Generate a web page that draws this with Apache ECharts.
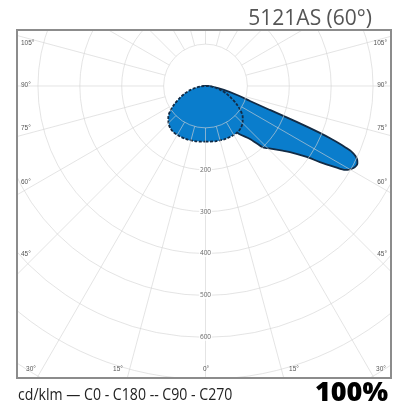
<!DOCTYPE html>
<html><head><meta charset="utf-8">
<script src="https://cdn.jsdelivr.net/npm/echarts@6/dist/echarts.min.js"></script>
<style>html,body{margin:0;padding:0;background:#fff}#c{width:404px;height:408px}</style>
</head><body><div id="c"></div>
<script>
// Luminous intensity (cd/klm) by gamma angle
const gammaC0 = [0, 10, 20, 30, 35, 40, 43, 45, 50, 52, 55, 56.4, 58, 59, 60, 61, 62, 63, 64, 65, 65.75, 66.3, 66.7, 67.2, 67.7, 68.5, 69.6, 71.4, 74, 78, 85, 90, 180];
const valuesC0 = [95, 95, 100, 110, 140, 165, 200, 210, 240, 256, 295, 328, 365, 389, 398, 404, 407, 407, 403, 395, 383, 365, 350, 325, 295, 234, 164, 112, 80, 45, 15, 3, 0];
const gammaC180 = [0, 15, 30, 45, 60, 75, 90, 180];
const valuesC180 = [95, 90, 80, 60, 35, 12, 0, 0];
const gammaC90 = [0, 10, 20, 30, 35, 40, 45, 50, 55, 60, 65, 70, 75, 80, 85, 90, 180];
const valuesC90 = [133, 134, 135, 135, 134, 131, 125, 116, 102, 85, 68, 53, 38, 24, 12, 3, 0];
const ringLabels = [200, 300, 400, 500, 600];
const sideAngleLabels = ['105°', '90°', '75°', '60°', '45°'];
const bottomAngleLabels = ['30°', '15°', '0°', '15°', '30°'];
const titleText = '5121AS (60°)';
const legendText = 'cd/klm — C0 - C180 -- C90 - C270';
const percentText = '100%';

function buildCurve(gR, vR, gL, vL) {
  const d = [];
  for (let i = 0; i < gR.length; i++) d.push([vR[i], gR[i]]);
  for (let i = gL.length - 1; i >= 0; i--) {
    if (gL[i] === 180) continue;
    d.push([vL[i], 360 - gL[i]]);
  }
  d.push([vR[0], 360]);
  return d;
}
const c0Data = buildCurve(gammaC0, valuesC0, gammaC180, valuesC180);
const c90Data = buildCurve(gammaC90, valuesC90, gammaC90, valuesC90);

const gridColor = 'rgba(212,212,212,0.62)';
const radialSeries = [];
for (let a = 0; a < 360; a += 15) {
  radialSeries.push({
    type: 'line', coordinateSystem: 'polar', silent: true, symbol: 'none', z: 5,
    lineStyle: { color: gridColor, width: 1 },
    data: [[100, a], [900, a]]
  });
}

const FL = 17, FT = 30, FR = 391, FB = 378;
const sideY = [43, 85, 128, 182, 254];
const bottomX = [31, 118, 206, 294, 381];
const graphics = [
  { type: 'rect', z: 100, shape: { x: 0, y: 0, width: 404, height: FT }, style: { fill: '#fff' } },
  { type: 'rect', z: 100, shape: { x: 0, y: 0, width: FL, height: 408 }, style: { fill: '#fff' } },
  { type: 'rect', z: 100, shape: { x: FR, y: 0, width: 404 - FR, height: 408 }, style: { fill: '#fff' } },
  { type: 'rect', z: 100, shape: { x: 0, y: FB, width: 404, height: 408 - FB }, style: { fill: '#fff' } },
  { type: 'rect', z: 101, shape: { x: FL, y: FT, width: FR - FL, height: FB - FT }, style: { fill: 'none', stroke: '#8c8c8c', lineWidth: 2 } },
  { type: 'text', z: 102, x: 372, y: 19, style: { text: titleText, fontFamily: 'Open Sans', fontSize: 21, fill: '#555', align: 'right', verticalAlign: 'middle' } },
  { type: 'text', z: 102, x: 18, y: 395, scaleX: 0.83, style: { text: legendText, fontFamily: 'Open Sans', fontSize: 17, fill: '#222', align: 'left', verticalAlign: 'middle' } },
  { type: 'text', z: 102, x: 388, y: 393, style: { text: percentText, fontFamily: 'Open Sans', fontWeight: 800, fontSize: 27, fill: '#000', align: 'right', verticalAlign: 'middle' } }
];
sideAngleLabels.forEach((t, i) => {
  graphics.push({ type: 'text', z: 102, x: 21, y: sideY[i], style: { text: t, fontSize: 6.5, fill: '#555', align: 'left', verticalAlign: 'middle' } });
  graphics.push({ type: 'text', z: 102, x: 387, y: sideY[i], style: { text: t, fontSize: 6.5, fill: '#555', align: 'right', verticalAlign: 'middle' } });
});
bottomAngleLabels.forEach((t, i) => {
  graphics.push({ type: 'text', z: 102, x: bottomX[i], y: 369, style: { text: t, fontSize: 6.5, fill: '#555', align: 'center', verticalAlign: 'middle' } });
});

const chart = echarts.init(document.getElementById('c'), null, { renderer: 'canvas' });
chart.setOption({
  animation: false,
  textStyle: { fontFamily: 'Open Sans' },
  polar: { center: [205.5, 86], radius: 377 },
  angleAxis: {
    type: 'value', min: 0, max: 360, startAngle: 270, clockwise: false,
    axisLine: { show: false }, axisTick: { show: false }, axisLabel: { show: false }, splitLine: { show: false }
  },
  radiusAxis: {
    type: 'value', min: 0, max: 900, interval: 100, z: 5,
    axisLine: { show: false }, axisTick: { show: false }, axisLabel: { show: false },
    splitLine: { show: true, lineStyle: { color: gridColor, width: 1 } }
  },
  graphic: { elements: graphics },
  series: [
    {
      name: 'C0 - C180', type: 'line', coordinateSystem: 'polar', symbol: 'none', smooth: 0.25, z: 1,
      lineStyle: { color: '#122b45', width: 1.8 },
      areaStyle: { color: '#0a7dcc', opacity: 1 },
      data: c0Data
    },
    {
      name: 'C90 - C270', type: 'line', coordinateSystem: 'polar', symbol: 'none', smooth: 0.3, z: 3,
      lineStyle: { color: '#122b45', width: 1.8, type: [3, 1.5] },
      areaStyle: { color: '#0a7dcc', opacity: 1 },
      data: c90Data
    },
    ...radialSeries,
    {
      type: 'scatter', coordinateSystem: 'polar', symbolSize: 0, z: 6, silent: true,
      label: { show: true, position: 'inside', formatter: p => String(p.value[0]), fontSize: 6.5, color: '#444', backgroundColor: '#fff', padding: [0, 1] },
      data: ringLabels.map(v => [v, 0])
    }
  ]
});
</script></body></html>
